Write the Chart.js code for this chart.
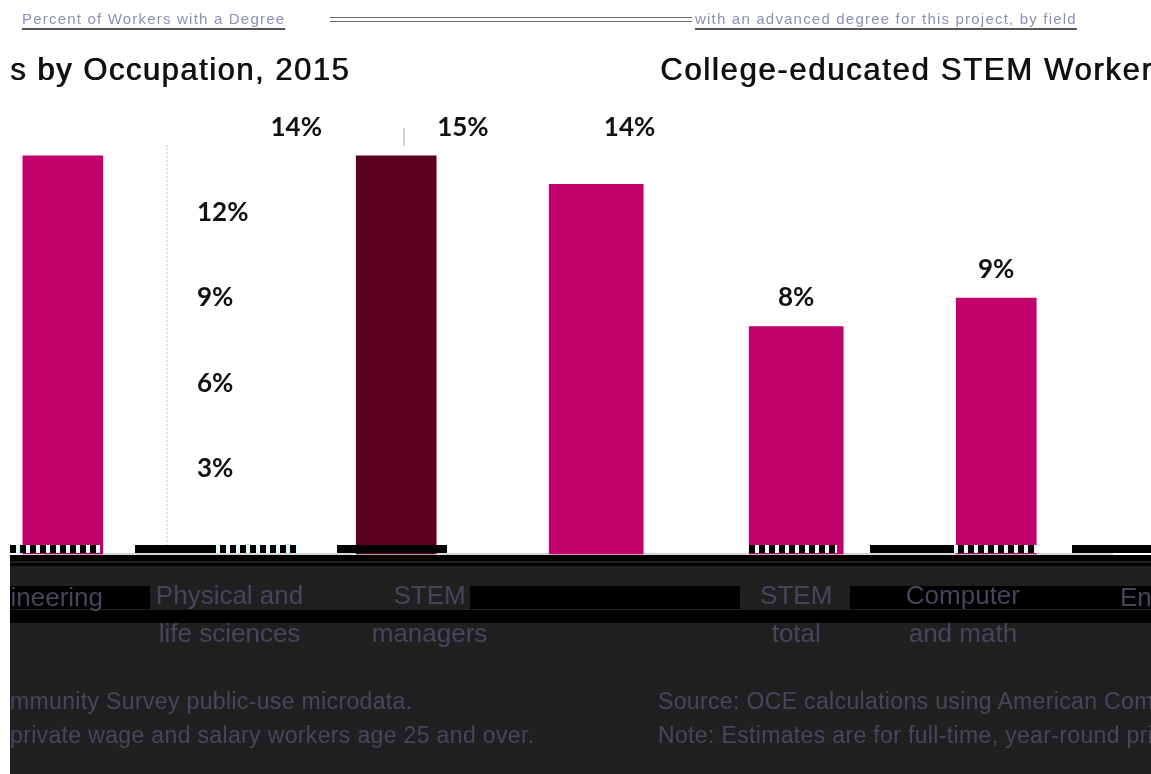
<!DOCTYPE html>
<html>
<head>
<meta charset="utf-8">
<title>College-educated STEM Workers by Occupation, 2015</title>
<script src="https://cdn.jsdelivr.net/npm/chart.js@4.4.1/dist/chart.umd.min.js"></script>
<style>
  html, body { margin:0; padding:0; width:1151px; height:774px; overflow:hidden; background:#fff;
    font-family:"Liberation Sans", Arial, sans-serif; }
  .a { position:absolute; white-space:nowrap; }
  #chartBox { position:absolute; left:0; top:0; width:1151px; height:774px; z-index:2; }
  .band { position:absolute; background:#000; z-index:1; }
  .strip { position:absolute; top:545px; height:8px; z-index:3; }
  .dash { background:repeating-linear-gradient(90deg,#000 0 6px,#e9ffff 6px 10px); }
  .solid { background:#000; }
  .title2 { top:54px; font-size:31px; line-height:31px; color:#111; z-index:4; text-shadow:0.8px 0 0 #111; }
  .garble { top:10px; font-size:15px; line-height:18px; letter-spacing:1.2px; color:#8d90b4;
    text-decoration:underline; text-decoration-color:#555; text-decoration-thickness:2px; text-underline-offset:4px; z-index:4; }
  .xl { font-size:26px; line-height:38px; top:578px; color:#46465a; z-index:4; }
  .foot { font-size:23px; line-height:23px; color:#47475a; z-index:4; letter-spacing:0.35px; }
</style>
</head>
<body>
<!-- top garbled heading line -->
<div class="a garble" style="left:22px;">Percent of Workers with a Degree</div>
<div class="a" style="left:330px;top:17px;width:362px;height:3px;border-top:1px solid #6a6a6a;border-bottom:1px solid #6a6a6a;z-index:4;"></div>
<div class="a garble" style="left:695px;">with an advanced degree for this project, by field</div>

<!-- title line (wrapped) -->
<div class="a title2" style="left:10px;letter-spacing:1.5px;">s by Occupation, 2015</div>
<div class="a title2" style="left:660px;letter-spacing:1.7px;">College-educated STEM Workers</div>

<!-- faint guides -->
<div class="a" style="left:166px;top:145px;height:405px;border-left:2px dotted #e3e3e3;z-index:1;"></div>
<div class="a" style="left:403px;top:128px;height:18px;border-left:2px solid #d2d2d2;z-index:1;"></div>

<!-- dark lower band -->
<div class="band" style="left:10px;top:555px;width:1141px;height:219px;background:#202020;"></div>
<div class="band" style="left:10px;top:555px;width:1141px;height:6px;"></div>
<div class="band" style="left:10px;top:563px;width:1141px;height:3px;"></div>
<div class="band" style="left:10px;top:586px;width:140px;height:23px;"></div>
<div class="band" style="left:470px;top:586px;width:270px;height:23px;"></div>
<div class="band" style="left:850px;top:586px;width:301px;height:23px;"></div>
<div class="band" style="left:10px;top:610px;width:1141px;height:13px;"></div>

<div id="chartBox"><canvas id="c"></canvas></div>

<!-- glitch strip at the base of the bars -->
<div class="strip dash" style="left:10px;width:90px;"></div>
<div class="strip solid" style="left:135px;width:75px;"></div>
<div class="strip dash" style="left:210px;width:90px;"></div>
<div class="strip solid" style="left:337px;width:110px;"></div>
<div class="strip dash" style="left:749px;width:88px;"></div>
<div class="strip solid" style="left:870px;width:78px;"></div>
<div class="strip dash" style="left:948px;width:89px;"></div>
<div class="strip solid" style="left:1072px;width:79px;"></div>

<!-- wrapped category label -->
<div class="a xl" style="left:1120px;">Engineering</div>
<div class="a xl" style="right:1048px;">Engineering</div>

<!-- footer (wrapped) -->
<div class="a foot" style="left:10px;top:690px;">mmunity Survey public-use microdata.</div>
<div class="a foot" style="left:10px;top:724px;">private wage and salary workers age 25 and over.</div>
<div class="a foot" style="left:658px;top:690px;">Source: OCE calculations using American Community Survey public-use microdata.</div>
<div class="a foot" style="left:658px;top:724px;">Note: Estimates are for full-time, year-round private wage and salary workers age 25 and over.</div>

<div class="a" style="left:0;top:545px;width:10px;height:229px;background:#fff;z-index:6;"></div>

<script>
// ---- data (32 category slots across the plot) ----
const categories = [
  '', '', '', '', '', ['Physical and', 'life sciences'], '', '',
  '', '', '', ['STEM', 'managers'], '', '', '', '',
  '', '', '', '', '', '', ['STEM', 'total'], '',
  '', '', '', ['Computer', 'and math'], '', '', '', ''
];
const magentaNarrow = [
  14, null, null, null, null, null, null, null,
  null, null, null, null, null, null, null, null,
  null, null, null, null, null, null, null, null,
  null, null, null, null, 9, null, null, null
];
const managersBar = [
  null, null, null, null, null, null, null, null,
  null, null, 14, null, null, null, null, null,
  null, null, null, null, null, null, null, null,
  null, null, null, null, null, null, null, null
];
const magentaWide = [
  null, null, null, null, null, null, null, null,
  null, null, null, null, null, null, null, null,
  13, null, null, null, null, null, 8, null,
  null, null, null, null, null, null, null, null
];
const valueLabels = [
  null, null, null, null, null, null, null, '14%',
  null, null, null, null, '15%', null, null, null,
  null, '14%', null, null, null, null, '8%', null,
  null, null, null, null, '9%', null, null, null
];
const labelLevels = [
  null, null, null, null, null, null, null, 15,
  null, null, null, null, 15, null, null, null,
  null, 15, null, null, null, null, 9, null,
  null, null, null, null, 10, null, null, null
];
const yTicks = [3, 6, 9, 12];

const MAGENTA = '#C1006B';
const DARK = '#5C0021';

const labelPlugin = {
  id: 'valueLabels',
  afterDatasetsDraw(chart) {
    const { ctx, scales: { x, y } } = chart;
    ctx.save();
    ctx.font = 'bold 26px Lato, "Liberation Sans", sans-serif';
    ctx.fillStyle = '#111111';
    ctx.textAlign = 'center';
    ctx.textBaseline = 'middle';
    valueLabels.forEach((t, i) => {
      if (t) ctx.fillText(t, x.getPixelForValue(i), y.getPixelForValue(labelLevels[i]));
    });
    ctx.restore();
  }
};

new Chart(document.getElementById('c'), {
  type: 'bar',
  data: {
    labels: categories,
    datasets: [
      { data: magentaNarrow, backgroundColor: MAGENTA, barThickness: 80, grouped: false, clip: false },
      { data: managersBar, backgroundColor: DARK, barThickness: 80, grouped: false, clip: false },
      { data: magentaWide, backgroundColor: MAGENTA, barThickness: 94, grouped: false, clip: false }
    ]
  },
  options: {
    responsive: true,
    maintainAspectRatio: false,
    animation: false,
    layout: { autoPadding: false, padding: { left: 46.2, right: 38.1, top: 99, bottom: 100 } },
    plugins: { legend: { display: false }, tooltip: { enabled: false }, title: { display: false } },
    scales: {
      x: {
        grid: { display: false, drawTicks: false },
        border: { display: true, color: '#d6d6d6', width: 2 },
        ticks: {
          autoSkip: false, maxRotation: 0, minRotation: 0, padding: 24,
          color: '#46465a',
          font: { family: '"Liberation Sans", Arial, sans-serif', size: 26, lineHeight: 1.46 }
        },
        afterFit: s => { s.height = 120; s.paddingLeft = 0; s.paddingRight = 0; }
      },
      y: {
        min: 0, max: 16,
        grid: { display: false, drawTicks: false },
        border: { display: false },
        afterBuildTicks: s => { s.ticks = yTicks.map(v => ({ value: v })); },
        ticks: {
          mirror: true, padding: 150.8, color: '#111111',
          font: { family: 'Lato, "Liberation Sans", sans-serif', size: 26, weight: 'bold' },
          callback: v => v + '%'
        },
        afterFit: s => { s.width = 0; s.paddingTop = 0; s.paddingBottom = 0; }
      }
    }
  },
  plugins: [labelPlugin]
});
</script>
</body>
</html>
